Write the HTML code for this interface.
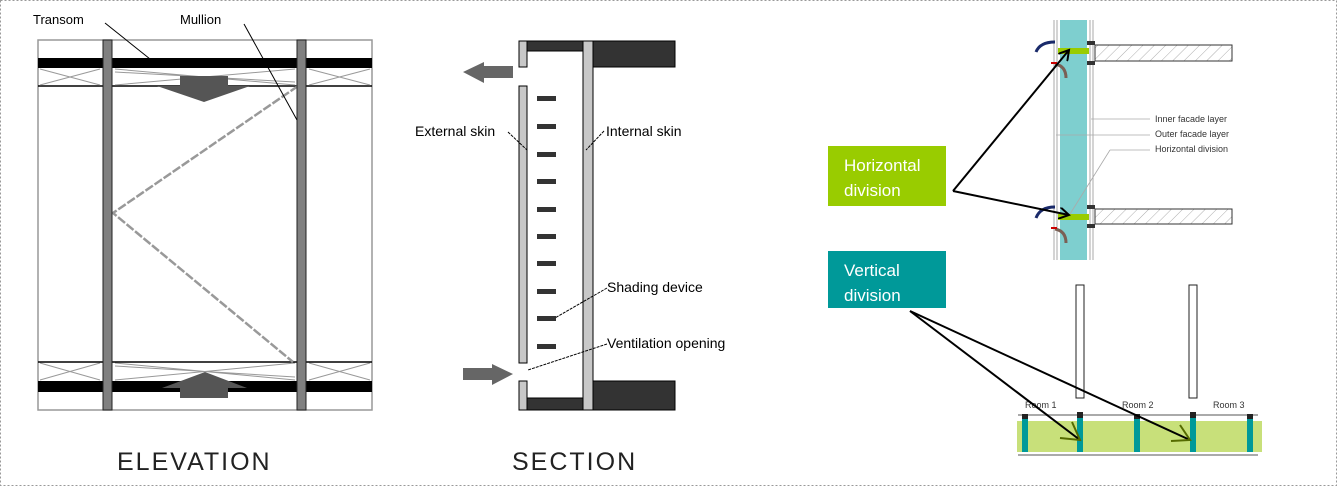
<!DOCTYPE html>
<html><head><meta charset="utf-8"><style>
html,body{margin:0;padding:0;background:#fff;}
svg{display:block;}
text{font-family:"Liberation Sans",sans-serif;}
</style></head><body>
<svg width="1337" height="486" viewBox="0 0 1337 486" xmlns="http://www.w3.org/2000/svg">
<defs>
<pattern id="hat" width="8" height="8" patternUnits="userSpaceOnUse" patternTransform="rotate(45)"><line x1="0" y1="0" x2="0" y2="8" stroke="#999" stroke-width="0.8"/></pattern>
<marker id="ah" markerWidth="12" markerHeight="12" refX="10" refY="6" orient="auto" markerUnits="userSpaceOnUse"><path d="M0,0 L10,6 L0,12" fill="none" stroke="#000" stroke-width="2"/></marker>
<marker id="ao" markerWidth="14" markerHeight="14" refX="12" refY="7" orient="auto" markerUnits="userSpaceOnUse"><path d="M0,0 L12,7 L0,14" fill="none" stroke="#556b00" stroke-width="2"/></marker>
</defs>
<rect x="0.5" y="0.5" width="1336" height="485" fill="#fff" stroke="#999" stroke-dasharray="2,2"/>

<!-- ELEVATION -->
<rect x="38" y="40" width="334" height="370" fill="#fff" stroke="#999" stroke-width="1.5"/>
<rect x="38" y="58" width="334" height="10" fill="#000"/>
<line x1="38" y1="86" x2="372" y2="86" stroke="#000" stroke-width="1.5"/>
<g stroke="#999" stroke-width="1" fill="none">
<path d="M40,69 L100,85 M40,85 L100,69 M115,69 L295,85 M115,85 L295,69 M115,72 L295,82 M309,69 L370,85 M309,85 L370,69"/>
<path d="M40,363 L100,380 M40,380 L100,363 M115,363 L295,380 M115,380 L295,363 M115,366 L295,377 M309,363 L370,380 M309,380 L370,363"/>
</g>
<line x1="38" y1="362" x2="372" y2="362" stroke="#000" stroke-width="1.5"/>
<rect x="38" y="381" width="334" height="11" fill="#000"/>
<path d="M180,76 H228 V86 H250 L204,102 L157,86 H180 Z" fill="#555"/>
<path d="M205,372 L247,388 H228 V398 H180 V388 H162 Z" fill="#555"/>
<path d="M298,86 L113,213 L293,362" fill="none" stroke="#999" stroke-width="2.5" stroke-dasharray="9,2"/>
<rect x="103" y="40" width="9" height="370" fill="#808080" stroke="#222" stroke-width="1"/>
<rect x="297" y="40" width="9" height="370" fill="#808080" stroke="#222" stroke-width="1"/>
<line x1="105" y1="23" x2="150" y2="59" stroke="#000"/>
<line x1="244" y1="24" x2="297" y2="120" stroke="#000"/>
<text x="33" y="24" font-size="13">Transom</text>
<text x="180" y="24" font-size="13">Mullion</text>
<text x="117" y="470" font-size="25" letter-spacing="2" fill="#222">ELEVATION</text>

<!-- SECTION -->
<g stroke="#000" stroke-width="1">
<rect x="519" y="41" width="8" height="26" fill="#c8c8c8"/>
<rect x="527" y="41" width="56" height="10" fill="#333"/>
<rect x="593" y="41" width="82" height="26" fill="#333"/>
<rect x="583" y="41" width="10" height="369" fill="#c8c8c8"/>
<rect x="519" y="86" width="8" height="277" fill="#c8c8c8"/>
<rect x="519" y="381" width="8" height="29" fill="#c8c8c8"/>
<rect x="527" y="398" width="56" height="12" fill="#333"/>
<rect x="593" y="381" width="82" height="29" fill="#333"/>
</g>
<g fill="#333">
<rect x="537" y="96" width="19" height="5"/><rect x="537" y="124" width="19" height="5"/><rect x="537" y="152" width="19" height="5"/><rect x="537" y="179" width="19" height="5"/><rect x="537" y="207" width="19" height="5"/><rect x="537" y="234" width="19" height="5"/><rect x="537" y="261" width="19" height="5"/><rect x="537" y="289" width="19" height="5"/><rect x="537" y="316" width="19" height="5"/><rect x="537" y="344" width="19" height="5"/>
</g>
<path d="M463,72 L484,62 V66 H513 V78 H484 V83 Z" fill="#666"/>
<path d="M513,374 L492,364 V368 H463 V380 H492 V385 Z" fill="#666"/>
<g stroke="#000" stroke-width="1" stroke-dasharray="3,1">
<line x1="508" y1="132" x2="527" y2="150"/>
<line x1="604" y1="131" x2="586" y2="150"/>
<line x1="607" y1="288" x2="555" y2="318"/>
<line x1="607" y1="344" x2="528" y2="370"/>
</g>
<text x="415" y="136" font-size="14">External skin</text>
<text x="606" y="136" font-size="14">Internal skin</text>
<text x="607" y="292" font-size="14">Shading device</text>
<text x="607" y="348" font-size="14">Ventilation  opening</text>
<text x="512" y="470" font-size="25" letter-spacing="2" fill="#222">SECTION</text>

<!-- RIGHT TOP -->
<line x1="1054" y1="20" x2="1054" y2="260" stroke="#aaa"/>
<line x1="1057" y1="20" x2="1057" y2="260" stroke="#aaa"/>
<rect x="1060" y="20" width="27" height="240" fill="#7ecfcf"/>
<line x1="1090" y1="20" x2="1090" y2="260" stroke="#aaa"/>
<line x1="1093" y1="20" x2="1093" y2="260" stroke="#aaa"/>
<rect x="1095" y="45" width="137" height="16" fill="url(#hat)" stroke="#333"/>
<rect x="1095" y="209" width="137" height="15" fill="url(#hat)" stroke="#333"/>
<rect x="1087" y="41" width="8" height="4" fill="#333"/><rect x="1087" y="61" width="8" height="4" fill="#333"/>
<rect x="1087" y="205" width="8" height="4" fill="#333"/><rect x="1087" y="224" width="8" height="4" fill="#333"/>
<rect x="1058" y="48" width="31" height="6" fill="#99cc00"/>
<rect x="1058" y="214" width="31" height="6" fill="#99cc00"/>
<path d="M1036,52 Q1040,42 1055,42" fill="none" stroke="#1a2a6a" stroke-width="3"/>
<path d="M1036,218 Q1040,207 1055,207" fill="none" stroke="#1a2a6a" stroke-width="3"/>
<path d="M1066,78 Q1066,66 1055,64" fill="none" stroke="#7a6055" stroke-width="3"/>
<path d="M1066,243 Q1066,231 1055,229" fill="none" stroke="#7a6055" stroke-width="3"/>
<line x1="1051" y1="63" x2="1057" y2="63" stroke="#c00" stroke-width="2"/>
<line x1="1051" y1="228" x2="1057" y2="228" stroke="#c00" stroke-width="2"/>
<g stroke="#aaa" stroke-width="0.8">
<line x1="1091" y1="119" x2="1150" y2="119"/>
<line x1="1056" y1="135" x2="1150" y2="135"/>
<line x1="1070" y1="214" x2="1110" y2="150"/><line x1="1110" y1="150" x2="1150" y2="150"/>
</g>
<text x="1155" y="122" font-size="9" fill="#333">Inner facade layer</text>
<text x="1155" y="137" font-size="9" fill="#333">Outer facade layer</text>
<text x="1155" y="152" font-size="9" fill="#333">Horizontal division</text>

<rect x="828" y="146" width="118" height="60" fill="#99cc00"/>
<text x="844" y="171" font-size="17" fill="#fff">Horizontal</text>
<text x="844" y="196" font-size="17" fill="#fff">division</text>
<rect x="828" y="251" width="118" height="57" fill="#009999"/>
<text x="844" y="276" font-size="17" fill="#fff">Vertical</text>
<text x="844" y="301" font-size="17" fill="#fff">division</text>
<line x1="953" y1="191" x2="1069" y2="50" stroke="#000" stroke-width="2" marker-end="url(#ah)"/>
<line x1="953" y1="191" x2="1069" y2="215" stroke="#000" stroke-width="2" marker-end="url(#ah)"/>

<!-- RIGHT BOTTOM -->
<rect x="1076" y="285" width="8" height="113" fill="#fff" stroke="#222"/>
<rect x="1189" y="285" width="8" height="113" fill="#fff" stroke="#222"/>
<line x1="1018" y1="415" x2="1258" y2="415" stroke="#aaa" stroke-width="2"/>
<line x1="1018" y1="455" x2="1258" y2="455" stroke="#aaa" stroke-width="2"/>
<rect x="1017" y="421" width="245" height="31" fill="#c8e07a"/>
<g fill="#009999">
<rect x="1022" y="418" width="6" height="34"/><rect x="1077" y="418" width="6" height="34"/><rect x="1134" y="418" width="6" height="34"/><rect x="1190" y="418" width="6" height="34"/><rect x="1247" y="418" width="6" height="34"/>
</g>
<g fill="#222">
<rect x="1022" y="414" width="6" height="5"/><rect x="1077" y="412" width="6" height="6"/><rect x="1134" y="414" width="6" height="5"/><rect x="1190" y="412" width="6" height="6"/><rect x="1247" y="414" width="6" height="5"/>
</g>
<text x="1025" y="408" font-size="9" fill="#333">Room 1</text>
<text x="1122" y="408" font-size="9" fill="#333">Room 2</text>
<text x="1213" y="408" font-size="9" fill="#333">Room 3</text>
<line x1="910" y1="311" x2="1080" y2="440" stroke="#000" stroke-width="2"/>
<line x1="910" y1="311" x2="1190" y2="440" stroke="#000" stroke-width="2"/>
<path d="M1060,438 L1080,440 L1072,422" fill="none" stroke="#556b00" stroke-width="2"/>
<path d="M1171,441 L1190,440 L1180,425" fill="none" stroke="#556b00" stroke-width="2"/>
</svg>
</body></html>
